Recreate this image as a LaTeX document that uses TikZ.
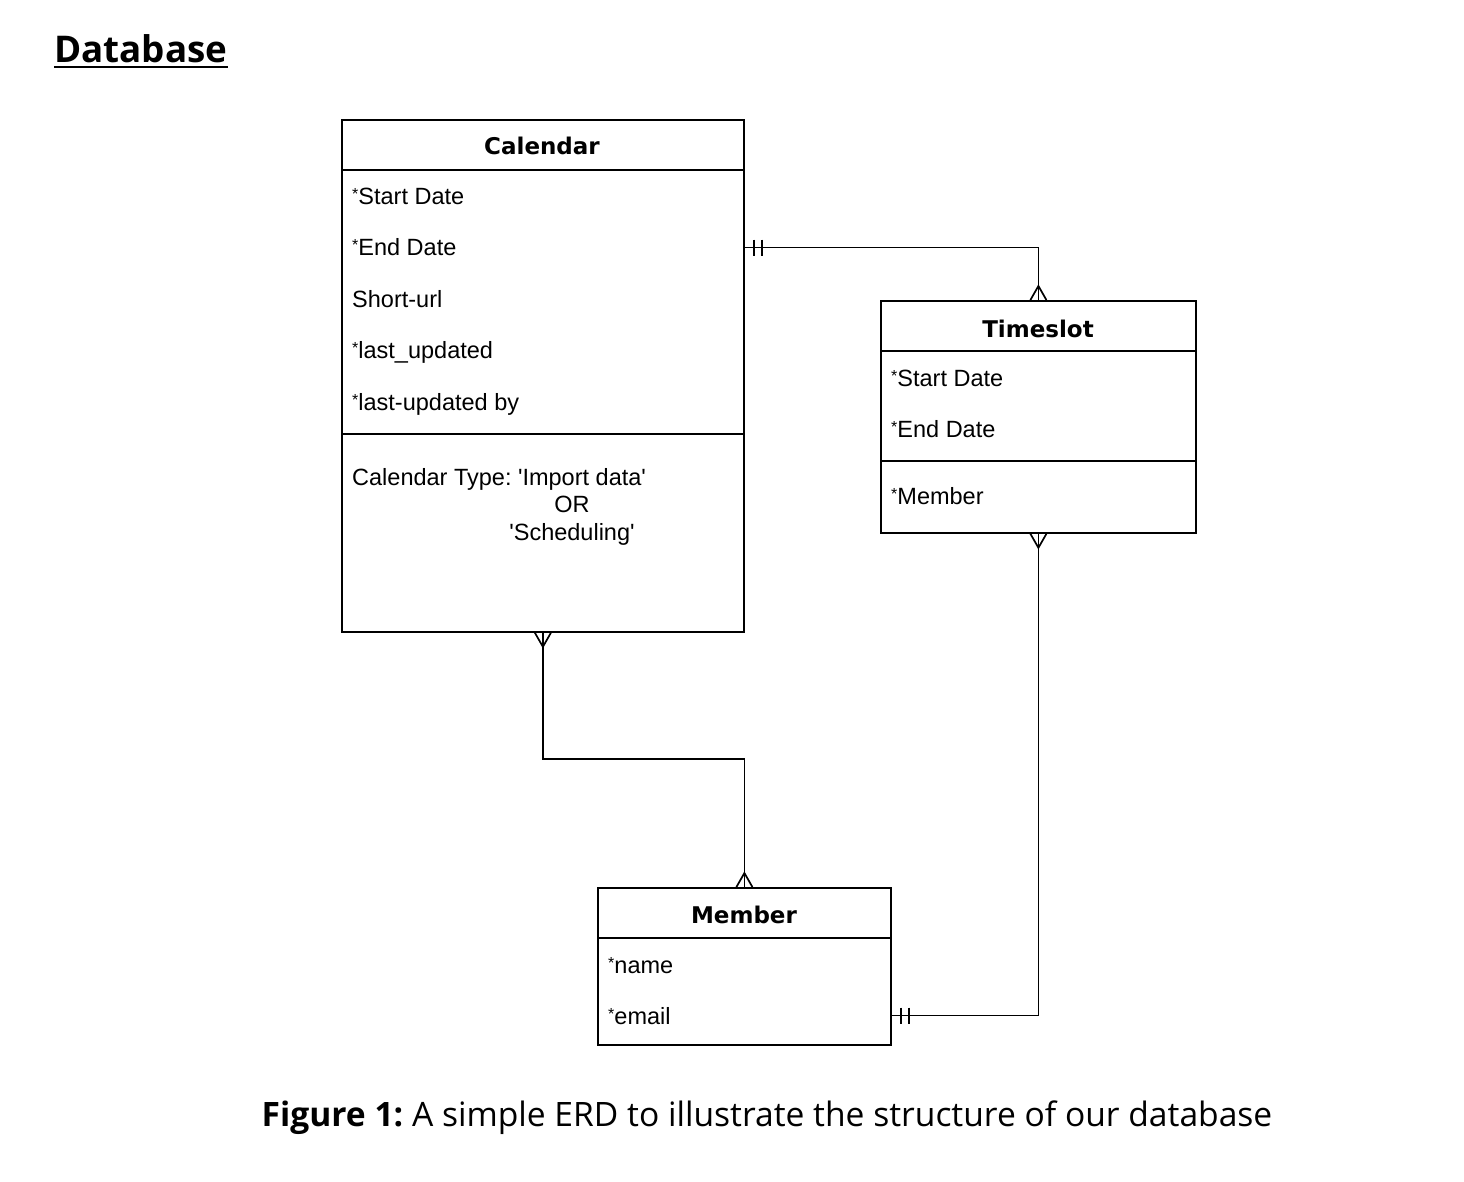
\documentclass[tikz,border=0pt]{standalone}
\usepackage{fontspec}
\setmainfont{Liberation Sans}
\newfontfamily\headfont{DejaVu Sans}
\newfontfamily\docfont{Open Sans}
\usetikzlibrary{calc}
\frenchspacing

\newcommand\reqmark{\raisebox{5pt}{\fontsize{16}{16}\selectfont *}}
\newcommand\q{\textquotesingle}

\tikzset{
  entity/.style={draw, line width=1.8pt, anchor=north west, inner sep=0pt},
  ehead/.style={anchor=base, inner sep=0pt, font=\headfont\bfseries\fontsize{23}{27}\selectfont},
  attr/.style={anchor=base west, inner sep=0pt, font=\fontsize{23.5}{27}\selectfont},
  link/.style={line width=1.7pt},
  crowup/.pic={\draw[link] (-8,0) -- (0,-14) -- (8,0);},
  crowdown/.pic={\draw[link] (-8,0) -- (0,14) -- (8,0);},
  onlyone/.pic={\draw[link] (9,-8) -- (9,8) (17,-8) -- (17,8);}
}

\begin{document}
\begin{tikzpicture}[x=1pt,y=-1pt]
\useasboundingbox (0,0) rectangle (1464,1182);

% heading and caption
\node[anchor=base west, inner sep=0pt, font=\docfont\bfseries\fontsize{36.8}{40}\selectfont] (title) at (54,63) {Database};
\draw[line width=2.4pt] ([yshift=-4pt]title.base west) -- ([yshift=-4pt]title.base east);
\node[anchor=base, inner sep=0pt, font=\docfont\fontsize{33.6}{38}\selectfont] (caption) at (767,1126) {\textbf{Figure 1:} A simple ERD to illustrate the structure of our database};

% Calendar
\node[entity, minimum width=402pt, minimum height=512pt] (cal) at (341,119) {};
\draw[entity] (cal.west |- 0,170) -- (cal.east |- 0,170);
\draw[entity] (cal.west |- 0,434) -- (cal.east |- 0,434);
\node[ehead] (calhead) at (542,155) {Calendar};
\node[attr] (calstart) at (352,205) {\reqmark Start Date};
\node[attr] (calend) at (352,256) {\reqmark End Date};
\node[attr] (calurl) at (352,307) {Short-url};
\node[attr] (calupd) at (352,358) {\reqmark last\_updated};
\node[attr] (calupdby) at (352,410) {\reqmark last-updated by};
\node[attr] (caltype) at (352,485) {Calendar Type: \q Import data\q};
\node[attr, anchor=base] (calor) at (572,512) {OR};
\node[attr, anchor=base] (calsched) at (572,540) {\q Scheduling\q};

% Timeslot
\node[entity, minimum width=315pt, minimum height=232pt] (ts) at (880,300) {};
\draw[entity] (ts.west |- 0,351) -- (ts.east |- 0,351);
\draw[entity] (ts.west |- 0,461) -- (ts.east |- 0,461);
\node[ehead] (tshead) at (1038,337) {Timeslot};
\node[attr] (tsstart) at (891,386) {\reqmark Start Date};
\node[attr] (tsend) at (891,437) {\reqmark End Date};
\node[attr] (tsmem) at (891,504) {\reqmark Member};

% Member
\node[entity, minimum width=293pt, minimum height=157pt] (mem) at (597,887) {};
\draw[entity] (mem.west |- 0,938) -- (mem.east |- 0,938);
\node[ehead] (memhead) at (744,923) {Member};
\node[attr] (memname) at (608,973) {\reqmark name};
\node[attr] (memmail) at (608,1024) {\reqmark email};

% relations
\draw[link] (cal.east |- calend) -| (ts.north);
\pic at (cal.east |- calend) {onlyone};
\pic at (ts.north) {crowup};

\draw[link] (cal.south) -- (cal.south |- 0,759) -| (mem.north);
\pic at (cal.south) {crowdown};
\pic at (mem.north) {crowup};

\draw[link] (ts.south) |- (mem.east |- memmail);
\pic at (ts.south) {crowdown};
\pic at (mem.east |- memmail) {onlyone};
\end{tikzpicture}
\end{document}
